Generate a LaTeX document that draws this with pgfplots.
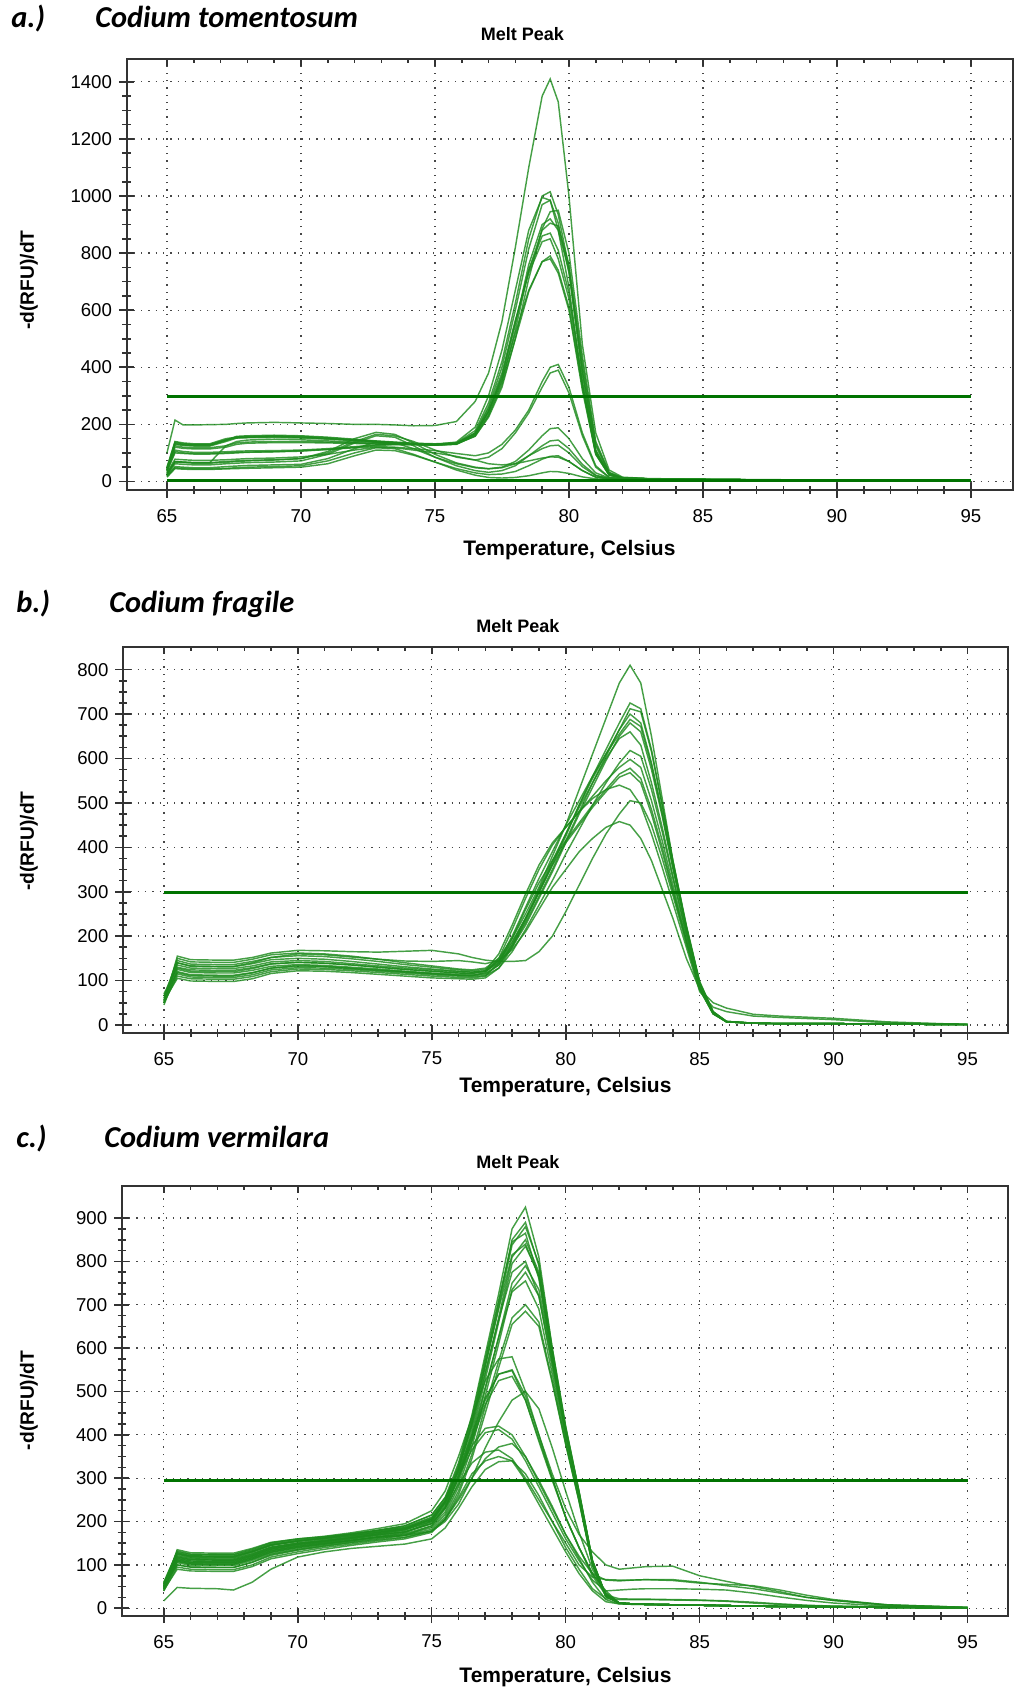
\documentclass[border=0pt]{standalone}
\usepackage{pgfplots}
\pgfplotsset{compat=1.18}
\usepackage{pgfplotstable}
\usepackage{fontspec}
\setmainfont{Liberation Sans}
\newfontfamily\calibri{Carlito}

\definecolor{cg}{RGB}{28,138,28}
\definecolor{tg}{RGB}{0,115,0}
\tikzset{curve/.style={cg, line width=0.72pt, opacity=0.82},
         thr/.style={tg, line width=1.5pt},
         ttl/.style={anchor=base west, inner sep=0pt, font=\calibri\bfseries\itshape\fontsize{15.2}{18}\selectfont},
         mp/.style={anchor=base, inner sep=0pt, font=\bfseries\fontsize{9}{11}\selectfont},
         yl/.style={rotate=90, inner sep=0pt, font=\bfseries\fontsize{9.6}{12}\selectfont},
         xl/.style={anchor=base, inner sep=0pt, font=\bfseries\fontsize{10.5}{12}\selectfont}}

\pgfplotsset{
  meltbase/.style={
    scale only axis, anchor=north west,
    xtick={65,70,...,95}, minor x tick num=4, minor y tick num=3,
    tick pos=left, tick align=center,
    major tick length=7.5pt, minor tick length=4pt,
    tick style={black!80, line width=0.8pt},
    axis line style={black!80, line width=1pt},
    grid=major,
    major grid style={black!72, line width=0.65pt, dash pattern=on 0.65pt off 3pt},
    tick label style={font=\fontsize{9.3}{11}\selectfont},
    xticklabel style={yshift=-2.5pt},
    /pgf/number format/assume math mode=true,
    /pgf/number format/1000 sep={},
  },
  melttop/.style={
    scale only axis, anchor=north west,
    xtick={65,70,...,95}, minor x tick num=4,
    xtick pos=upper, ytick=\empty, xticklabels={},
    tick align=inside,
    major tick length=3.5pt, minor tick length=2pt,
    tick style={black!80, line width=0.8pt},
    axis line style={black!80, line width=1pt},
  },
}

% Panel a: one row per curve, first row = temperature
\pgfplotstableread[header=false]{
65 65.3 65.6 66 66.6 67.2 67.6 68 69 70 71 72 72.8 73.5 74.2 75 75.8 76.5 77 77.5 78 78.5 79 79.3 79.6 80 80.5 81 81.5 82 83 85 88 92 95
100 215 198 198 199 200 203 205 207 205 203 200 200 198 195 196 210 280 380 560 820 1100 1350 1410 1330 1000 480 170 40 15 10 8 6 4 3
40 135 130 128 128 145 158 160 162 160 155 148 142 138 134 132 135 178 275 420 625 850 1000 1015 935 750 385 110 25 12 9 7 5 4 3
50 140 135 132 132 150 155 155 157 155 150 145 140 135 132 130 138 190 300 460 670 880 995 985 880 680 340 95 22 12 9 7 5 4 3
45 125 120 118 118 125 135 138 140 140 138 135 133 132 130 128 132 170 262 400 600 815 970 985 905 730 375 108 25 12 9 7 5 4 3
40 110 105 102 102 104 106 107 108 110 115 122 128 130 130 128 132 158 225 330 500 710 885 945 950 800 440 140 32 13 9 7 5 4 3
35 130 126 124 124 140 152 155 157 155 150 144 139 135 132 130 134 165 245 365 550 760 900 920 880 740 400 125 28 12 9 7 5 4 3
30 70 68 66 66 125 140 145 148 146 142 138 135 132 130 128 131 160 235 350 530 740 880 905 895 760 420 132 30 12 9 7 5 4 3
42 120 116 114 114 120 130 134 136 136 135 133 131 130 129 127 131 165 245 370 560 740 860 870 810 660 350 102 24 12 9 7 5 4 3
48 138 132 130 130 146 152 153 154 152 148 143 138 134 131 129 133 170 255 380 565 730 840 850 780 640 340 100 24 12 9 7 5 4 3
38 105 100 98 98 100 102 103 104 106 112 120 126 129 129 127 130 160 230 340 500 665 770 790 740 610 330 100 24 12 9 7 5 4 3
40 132 128 126 126 143 156 158 160 158 153 146 141 137 133 131 134 168 245 355 520 670 770 780 730 600 320 95 22 12 9 7 5 4 3
35 100 98 96 96 98 100 102 104 108 112 118 122 120 115 108 98 90 100 130 180 250 350 400 410 330 170 55 15 10 8 6 5 4 3
25 68 66 64 64 67 70 72 75 80 100 140 165 160 140 110 85 75 85 115 170 240 330 380 390 310 160 50 14 10 8 6 5 4 3
25 70 68 66 66 70 72 74 76 80 105 150 172 165 135 95 65 50 45 50 70 110 160 185 188 150 80 30 12 8 7 6 5 4 3
22 62 60 58 58 62 64 66 68 72 95 135 160 155 125 85 55 38 32 38 55 90 125 142 145 115 60 22 10 8 7 6 5 4 3
20 52 50 48 48 52 54 56 58 60 80 115 138 135 115 85 62 48 44 48 62 90 115 125 127 100 52 20 10 8 7 6 5 4 3
18 48 46 44 44 46 48 50 52 55 72 100 118 115 95 68 45 30 24 26 35 55 78 88 90 70 38 15 9 8 7 6 5 4 3
30 78 76 74 74 76 78 80 82 86 95 110 120 118 110 100 88 75 62 58 62 72 82 86 85 70 38 15 9 8 7 6 5 4 3
15 45 43 42 42 44 45 46 48 50 62 90 110 108 92 68 40 22 14 12 14 20 30 35 34 28 16 9 7 6 5 5 4 3 3
}\rawA
\pgfplotstabletranspose{\tabA}{\rawA}

% Panel b
\pgfplotstableread[header=false]{
65 65.5 66 67 67.6 68.3 69 70 71 72 73 74 75 76 76.5 77 77.5 78 78.5 79 79.5 80 80.5 81 81.5 82 82.4 82.8 83.2 83.6 84 84.5 85 85.5 86 87 88 90 92 95
55 150 142 141 141 148 158 162 160 155 148 140 133 126 124 128 150 195 250 310 380 450 530 610 690 770 810 770 650 510 370 220 95 30 8 4 3 3 2 1
65 145 137 136 136 143 152 156 154 149 143 136 130 124 122 125 145 188 240 298 360 425 495 560 620 680 725 712 620 495 370 225 98 30 8 4 3 3 2 1
50 140 132 131 131 138 147 150 148 143 137 131 126 121 119 122 142 185 240 300 365 430 495 555 610 665 712 705 615 495 368 222 94 28 7 4 3 3 2 1
60 135 128 127 127 133 142 145 143 138 133 128 124 120 119 121 139 180 230 290 350 415 480 545 605 665 700 680 590 480 360 220 95 30 8 4 3 3 2 1
70 130 124 123 123 129 138 141 139 135 130 125 121 117 116 120 145 200 265 330 390 450 505 560 610 655 688 672 585 475 355 215 92 28 7 4 3 3 2 1
45 125 118 117 117 123 132 136 134 130 126 121 117 114 113 116 135 175 225 285 345 410 475 535 595 650 680 660 575 470 352 215 92 28 7 4 3 3 2 1
55 120 113 112 112 118 128 132 131 127 123 119 115 112 111 114 135 180 240 305 370 430 490 545 600 645 660 630 545 445 335 205 88 27 7 4 3 3 2 1
50 115 108 107 107 113 124 129 128 125 121 117 113 110 109 111 128 165 215 270 325 385 440 495 545 590 618 605 530 435 330 205 88 27 7 4 3 3 2 1
60 128 121 120 120 127 137 141 139 135 130 125 121 117 116 122 160 225 295 360 410 445 480 515 550 580 598 580 505 415 315 195 85 26 7 4 3 3 2 1
50 110 104 103 103 109 120 126 125 122 118 114 110 107 106 110 140 195 260 320 370 415 455 495 530 565 578 555 485 400 305 190 82 25 7 4 3 3 2 1
55 105 99 98 98 104 116 122 121 118 114 110 106 104 103 106 128 175 235 300 360 410 450 490 525 558 568 545 475 390 300 188 80 25 7 4 3 3 2 1
65 118 111 110 110 117 128 134 132 128 124 120 116 112 111 118 150 215 285 350 405 445 480 510 530 540 530 495 430 355 275 175 75 40 30 20 17 12 5 1
50 155 147 146 146 152 162 168 167 165 164 166 168 160 152 146 143 143 145 165 200 255 315 375 430 475 505 500 450 375 292 183 80 25 8 4 3 3 2 1
55 140 133 132 132 140 152 160 158 153 148 144 143 145 142 138 145 170 210 260 310 350 390 420 445 458 450 420 370 305 240 150 80 50 38 24 20 15 7 1
}\rawB
\pgfplotstabletranspose{\tabB}{\rawB}

% Panel c
\pgfplotstableread[header=false]{
65 65.5 66 67 67.6 68.3 69 70 71 72 73 74 75 75.5 76 76.5 77 77.5 78 78.5 79 79.5 80 80.5 81 81.5 82 82.5 83 84 85 86 87 88 89 90 92 95
45 135 128 127 127 138 152 160 165 172 180 190 215 255 335 445 585 725 875 925 810 600 420 270 110 30 12 10 9 8 7 6 5 4 4 3 2 1
55 128 121 120 120 132 147 156 162 170 178 186 208 248 325 432 568 705 850 890 790 590 410 262 105 28 12 10 9 8 7 6 5 4 4 3 2 1
40 122 116 115 115 126 141 151 158 166 175 184 205 243 318 423 558 695 838 880 795 600 418 268 110 30 12 10 9 8 7 6 5 4 4 3 2 1
60 130 124 123 123 134 149 158 164 171 179 187 210 250 330 440 575 710 845 865 760 570 400 258 104 28 12 10 9 8 7 6 5 4 4 3 2 1
50 118 112 111 111 122 138 148 155 163 172 181 200 236 308 410 540 670 810 850 775 590 412 265 108 29 12 10 9 8 7 6 5 4 4 3 2 1
45 115 109 108 108 120 136 146 153 160 168 176 195 230 300 400 528 660 795 835 770 590 415 268 110 30 12 10 9 8 7 6 5 4 4 3 2 1
55 125 119 118 118 130 145 154 160 167 175 183 205 245 320 420 545 665 775 800 720 555 395 255 102 28 12 10 9 8 7 6 5 4 4 3 2 1
50 112 106 105 105 117 133 143 150 157 165 172 190 222 290 385 505 625 750 790 735 575 408 262 107 29 12 10 9 8 7 6 5 4 4 3 2 1
48 108 102 101 101 113 129 140 148 156 164 170 186 216 280 372 490 610 735 775 720 565 402 260 106 29 12 10 9 8 7 6 5 4 4 3 2 1
52 120 114 113 113 125 141 150 156 163 170 176 195 232 300 395 510 625 730 755 690 540 385 250 100 27 12 10 9 8 7 6 5 4 4 3 2 1
45 105 99 98 98 110 126 137 146 154 162 168 182 210 270 355 465 570 670 700 660 525 380 248 100 27 12 10 9 8 7 6 5 4 4 3 2 1
50 100 95 94 94 106 122 134 143 151 158 164 178 205 262 345 450 555 655 685 650 520 378 246 100 27 12 10 9 8 7 6 5 4 4 3 2 1
55 132 125 124 124 136 151 160 166 174 184 195 225 270 350 440 525 575 580 500 400 300 210 140 80 35 12 10 9 8 7 6 5 4 4 3 2 1
50 118 112 111 111 123 139 149 156 164 173 182 205 245 315 400 485 540 550 490 400 310 230 170 130 100 90 93 96 97 75 62 50 38 25 18 7 2
45 112 106 105 105 117 133 144 152 160 169 177 196 232 300 385 470 525 535 480 390 300 210 140 80 40 12 10 9 8 7 6 5 4 4 3 2 1
48 110 104 103 103 115 131 142 150 157 164 168 178 200 240 300 370 430 480 500 460 370 270 175 90 35 12 10 9 8 7 6 5 4 4 3 2 1
55 125 118 117 117 129 145 155 162 170 180 190 215 255 315 375 415 420 400 350 290 230 170 120 80 65 63 65 66 66 60 52 45 35 25 18 8 2
50 108 102 101 101 113 129 140 148 156 165 174 200 245 305 365 405 412 390 340 280 220 160 110 65 40 42 44 45 45 44 42 35 26 18 12 5 2
40 95 90 89 89 100 118 130 140 148 156 163 178 205 250 300 345 372 380 350 295 235 170 115 60 20 10 9 9 8 7 6 5 4 4 3 2 1
45 100 95 94 94 106 124 135 144 152 160 168 190 230 285 335 360 365 345 300 250 200 150 100 72 66 65 65 66 64 58 55 52 42 30 20 8 2
42 90 86 85 85 96 114 126 136 145 153 160 175 205 255 310 340 350 340 295 240 185 130 80 40 15 10 9 9 8 7 6 5 4 4 3 2 1
17 48 46 45 42 60 90 118 130 138 143 148 160 185 230 280 320 338 340 310 260 200 140 90 45 22 20 20 20 19 18 16 12 9 6 5 3 1
58 127 121 120 120 131 146 155 161 168 176 184 206 246 322 428 560 690 815 840 765 580 405 262 106 29 12 10 9 8 7 6 5 4 4 3 2 1
52 115 109 108 108 120 136 147 154 162 171 180 202 240 305 390 480 540 548 480 385 295 210 140 75 30 22 21 21 20 19 17 14 10 7 5 3 1
}\rawC
\pgfplotstabletranspose{\tabC}{\rawC}

\begin{document}
\begin{tikzpicture}
% ---------------- panel a ----------------
\begin{axis}[meltbase, at={(63.25pt,-29.5pt)}, width=443.25pt, height=215.5pt,
  xmin=63.49, xmax=96.57, ymin=-30, ymax=1480, ytick={0,200,...,1400}]
\pgfplotsinvokeforeach{2,...,20}{\addplot[curve] table[x index=1, y index=#1]{\tabA};}
\addplot[thr, line width=1.8pt] coordinates {(65,3) (95,3)};
\addplot[thr] coordinates {(65,298) (95,298)};
\end{axis}
\begin{axis}[melttop, at={(63.25pt,-29.5pt)}, width=443.25pt, height=215.5pt,
  xmin=63.49, xmax=96.57, ymin=-30, ymax=1480]
\end{axis}
\node[ttl] at (5.5pt,-13.5pt) {a.)};
\node[ttl] at (47.5pt,-13.5pt) {Codium tomentosum};
\node[mp] at (261.25pt,-20pt) {Melt Peak};
\node[yl] at (14.5pt,-140pt) {-d(RFU)/dT};
\node[xl] at (284.75pt,-277.5pt) {Temperature, Celsius};

% ---------------- panel b ----------------
\begin{axis}[meltbase, at={(61.5pt,-323.5pt)}, width=442.5pt, height=192.75pt,
  xmin=63.47, xmax=96.51, ymin=-17, ymax=851, ytick={0,100,...,800}]
\pgfplotsinvokeforeach{2,...,15}{\addplot[curve] table[x index=1, y index=#1]{\tabB};}
\addplot[thr] coordinates {(65,298) (95,298)};
\end{axis}
\begin{axis}[melttop, at={(61.5pt,-323.5pt)}, width=442.5pt, height=192.75pt,
  xmin=63.47, xmax=96.51, ymin=-17, ymax=851]
\end{axis}
\node[ttl] at (8pt,-306pt) {b.)};
\node[ttl] at (54.5pt,-306pt) {Codium fragile};
\node[mp] at (259pt,-316pt) {Melt Peak};
\node[yl] at (14.5pt,-420.5pt) {-d(RFU)/dT};
\node[xl] at (282.75pt,-546pt) {Temperature, Celsius};

% ---------------- panel c ----------------
\begin{axis}[meltbase, at={(60.85pt,-592.75pt)}, width=443.15pt, height=215.05pt,
  xmin=63.43, xmax=96.51, ymin=-17, ymax=975, ytick={0,100,...,900}]
\pgfplotsinvokeforeach{2,...,25}{\addplot[curve] table[x index=1, y index=#1]{\tabC};}
\addplot[thr] coordinates {(65,294) (95,294)};
\end{axis}
\begin{axis}[melttop, at={(60.85pt,-592.75pt)}, width=443.15pt, height=215.05pt,
  xmin=63.43, xmax=96.51, ymin=-17, ymax=975]
\end{axis}
\node[ttl] at (8pt,-573.5pt) {c.)};
\node[ttl] at (52pt,-573.5pt) {Codium vermilara};
\node[mp] at (259pt,-584pt) {Melt Peak};
\node[yl] at (14.5pt,-700.25pt) {-d(RFU)/dT};
\node[xl] at (282.75pt,-841pt) {Temperature, Celsius};

\pgfresetboundingbox
\path[use as bounding box] (0pt,0pt) rectangle (507.5pt,-844pt);
\end{tikzpicture}
\end{document}
